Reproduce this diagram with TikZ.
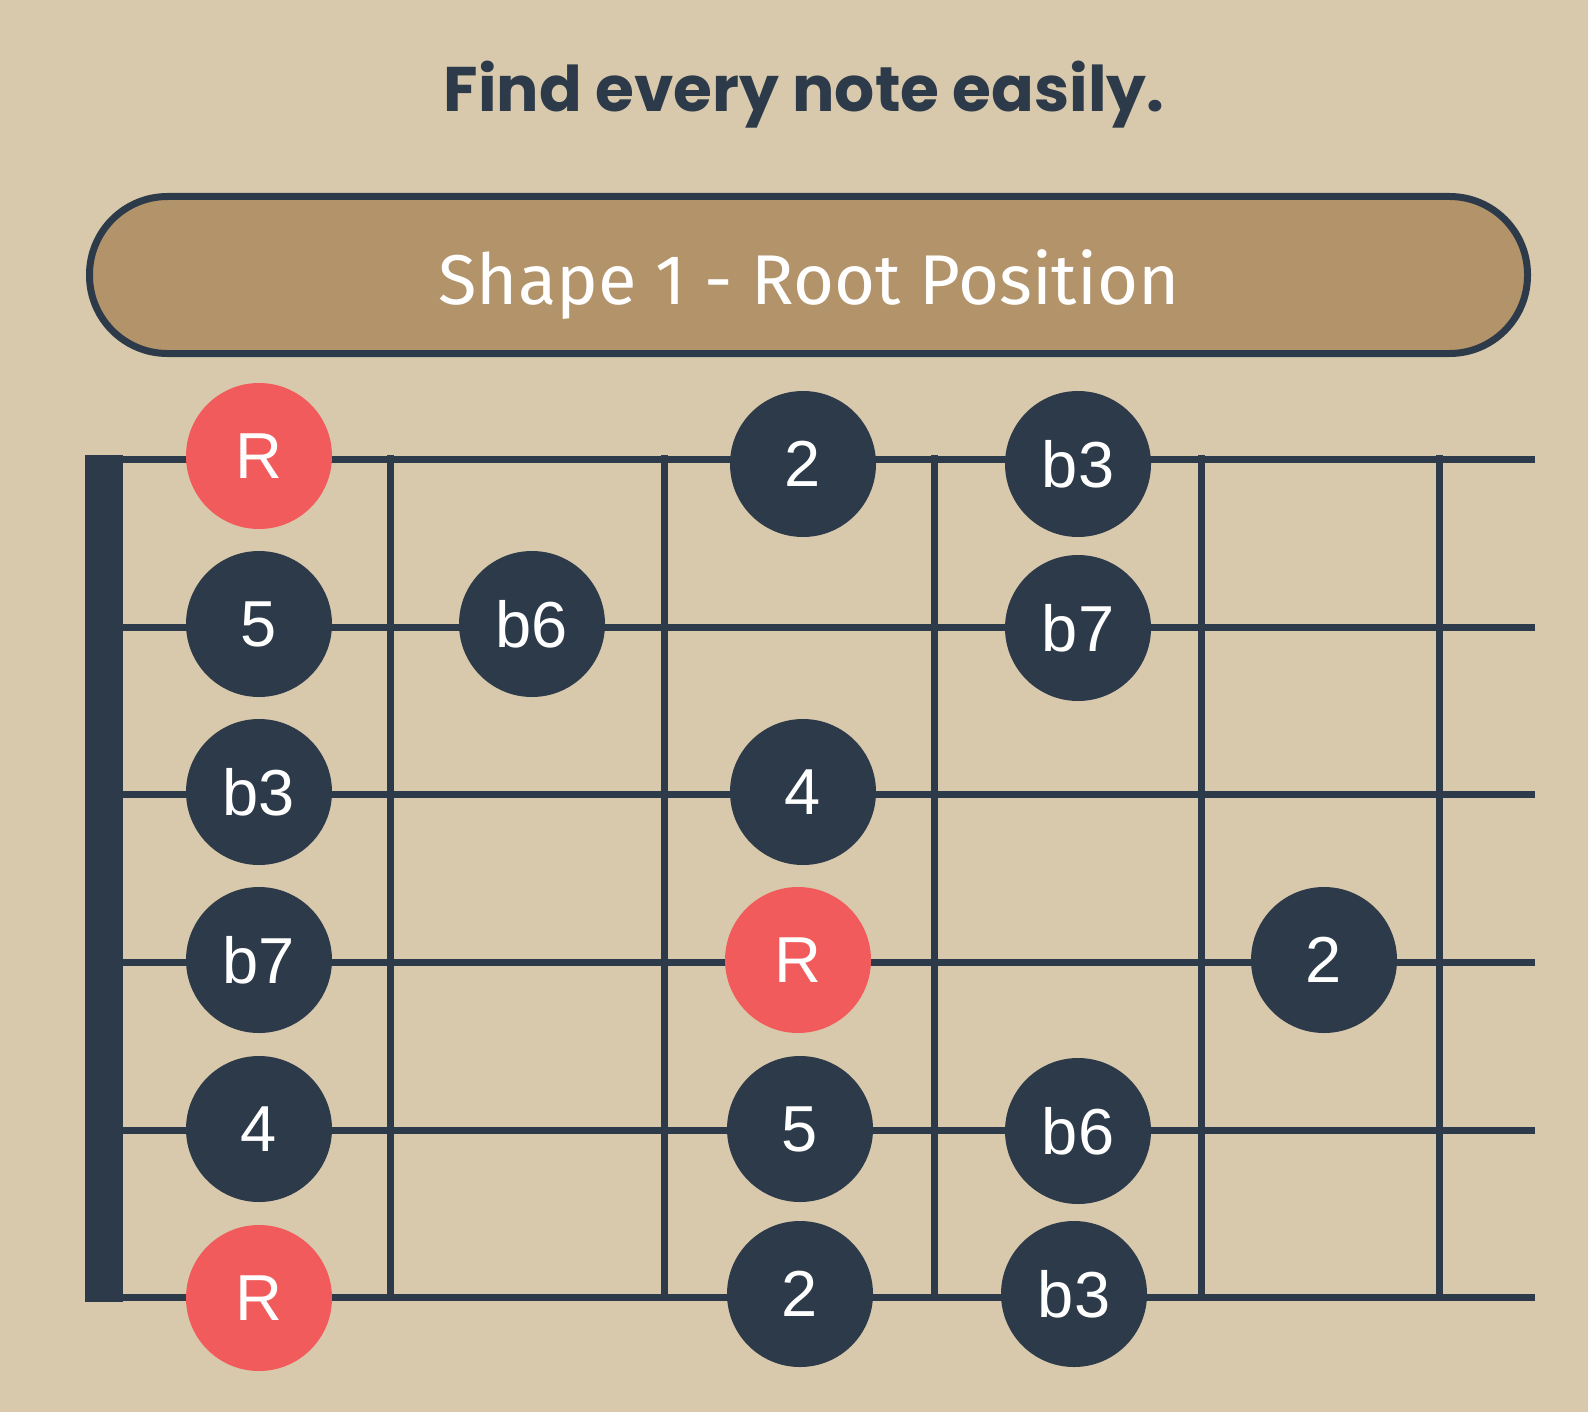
\documentclass[tikz,border=0pt]{standalone}
\usepackage{fontspec}
\newfontfamily\titlefont{Poppins}
\newfontfamily\bannerfont{Fira Sans}
\newfontfamily\notefont{Liberation Sans}
\definecolor{bgtan}{RGB}{216,201,172}
\definecolor{bannerfill}{RGB}{179,147,106}
\definecolor{navy}{RGB}{44,58,74}
\definecolor{rootred}{RGB}{242,91,91}
\tikzset{
  notedot/.style={circle, fill=navy, minimum size=73pt, inner sep=0pt, text=white, font=\notefont\fontsize{32.5}{32.5}\selectfont},
  rootdot/.style={notedot, fill=rootred},
  wire/.style={draw=navy, line width=3.5pt},
  fretline/.style={draw=navy, line width=3.5pt},
}
\begin{document}
\begin{tikzpicture}[x=0.5pt,y=-0.5pt]
\fill[bgtan] (0,0) rectangle (1588,1412);
\useasboundingbox (0,0) rectangle (1588,1412);
% title
\node[anchor=base, text=navy, inner sep=0pt, font=\titlefont\bfseries\fontsize{31.5}{31.5}\selectfont] (title) at (804,112) {Find every note easily.};
% banner
\node[draw=navy, line width=3.5pt, fill=bannerfill, rounded corners=39pt, minimum width=719pt, minimum height=78.5pt, inner sep=0pt] (banner) at (808.5,275) {};
\node[anchor=base, text=white, inner sep=0pt, font=\bannerfont\fontsize{35.2}{35.2}\selectfont] (bannertext) at (809,304) {Shape 1 - Root Position};
% nut
\fill[navy] (85,455) rectangle (123,1302);
% strings
\foreach \i/\y in {1/459,2/627,3/794,4/962,5/1130,6/1297}{
  \coordinate (sL\i) at (123,\y);
  \coordinate (sR\i) at (1535,\y);
  \draw[wire] (sL\i) -- (sR\i);
}
% frets
\foreach \j/\x in {1/390,2/664,3/934,4/1201,5/1439}{
  \coordinate (fT\j) at (\x,455);
  \coordinate (fB\j) at (\x,1301);
  \draw[fretline] (fT\j) -- (fB\j);
}
% notes
\node[rootdot] (n1) at (259,456) {R};
\node[notedot] (n2) at (803,464) {2};
\node[notedot] (n3) at (1078,464) {b3};
\node[notedot] (n4) at (259,624) {5};
\node[notedot] (n5) at (532,624) {b6};
\node[notedot] (n6) at (1078,628) {b7};
\node[notedot] (n7) at (259,792) {b3};
\node[notedot] (n8) at (803,792) {4};
\node[notedot] (n9) at (259,960) {b7};
\node[rootdot] (n10) at (798,960) {R};
\node[notedot] (n11) at (1324,960) {2};
\node[notedot] (n12) at (259,1129) {4};
\node[notedot] (n13) at (800,1129) {5};
\node[notedot] (n14) at (1078,1131) {b6};
\node[rootdot] (n15) at (259,1298) {R};
\node[notedot] (n16) at (800,1294) {2};
\node[notedot] (n17) at (1074,1294) {b3};
\end{tikzpicture}
\end{document}
